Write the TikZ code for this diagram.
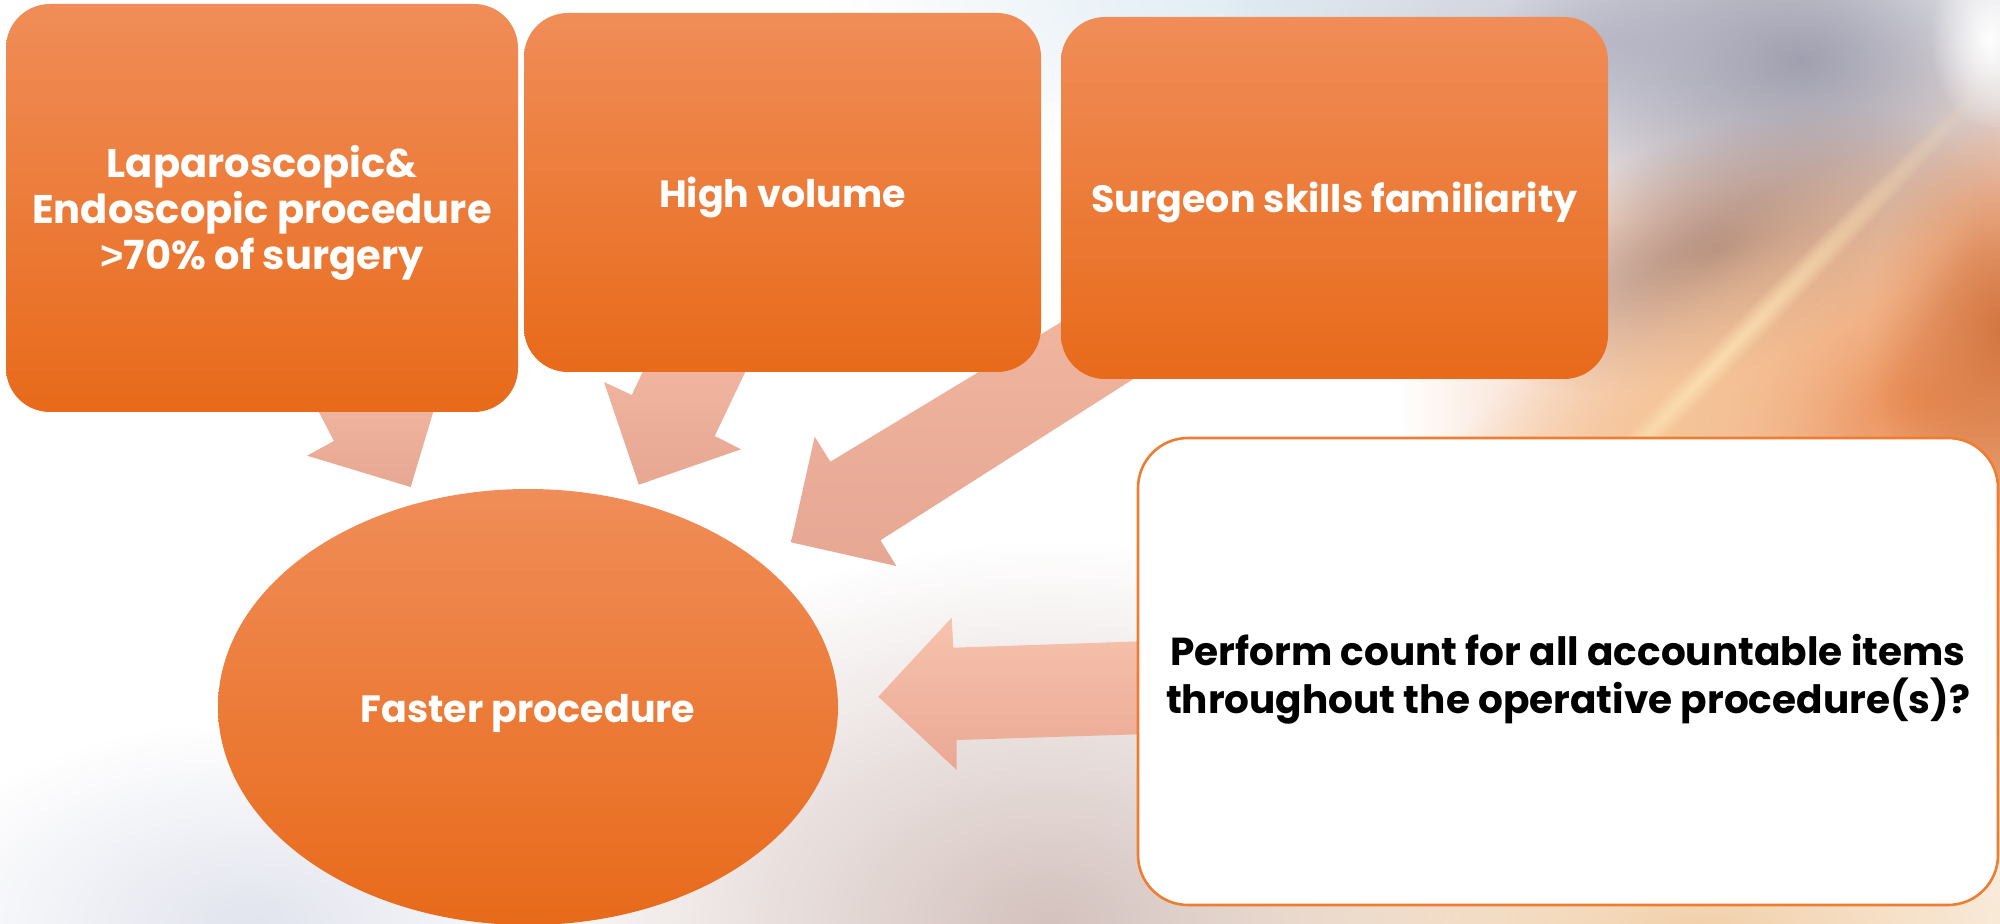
\documentclass[tikz,border=0pt]{standalone}
\usepackage{fontspec}
\newfontfamily\pop{Poppins}
\newfontfamily\altsans{Liberation Sans}
\usetikzlibrary{shapes.geometric,fadings}
\tikzfading[name=softfade, inner color=transparent!0, outer color=transparent!100]
\definecolor{boxtop}{HTML}{F08D58}
\definecolor{boxmid}{HTML}{F48030}
\definecolor{boxbot}{HTML}{E86A1A}
\definecolor{arrtop}{HTML}{F3B8A2}
\definecolor{arrbot}{HTML}{E6A793}
\definecolor{arr4top}{HTML}{F7C3AD}
\definecolor{arr4bot}{HTML}{EAA894}
\definecolor{edgeor}{HTML}{ED7D31}
\definecolor{bgmauve}{HTML}{D4C2BE}
\definecolor{bgcool}{HTML}{E2E4EE}
\definecolor{bgpeach}{HTML}{F2D0AA}
\definecolor{bggrey}{HTML}{A0A0B0}
\definecolor{bglav}{HTML}{C4C4D2}
\definecolor{bgbrown}{HTML}{B08C7E}
\definecolor{bgorange}{HTML}{EC9058}
\definecolor{bgdark}{HTML}{D47640}
\definecolor{bgblue}{HTML}{E0ECF4}
\definecolor{bgswoosh}{HTML}{FADDB0}
\definecolor{bgglow}{HTML}{F5C496}
% soft blob: colour, centre x, centre y, radius a, radius b (px), angle
\newcommand\softblob[6]{%
  \fill[#1, path fading=softfade, fit fading=false,
    fading transform={shift={(#2,#3)}, rotate=#6, xscale=#4/50, yscale=#5/50}]
    (#2-#4-#5,#3-#4-#5) rectangle (#2+#4+#5,#3+#4+#5);}
\tikzset{
  orshape/.style={rectangle, rounded corners=22pt, inner sep=0pt,
    top color=boxtop, middle color=boxmid, bottom color=boxbot},
  orell/.style={ellipse, inner sep=0pt,
    top color=boxtop, middle color=boxmid, bottom color=boxbot},
  whbox/.style={rectangle, rounded corners=25pt, inner sep=0pt, fill=white,
    draw=edgeor, line width=1.3pt},
  wtext/.style={text=white, align=center, inner sep=0pt,
    font=\pop\bfseries\fontsize{19}{23}\selectfont},
  btext/.style={text=black, align=center, inner sep=0pt,
    font=\pop\bfseries\fontsize{19.5}{24}\selectfont},
  blockarrow/.style={top color=arrtop, bottom color=arrbot, draw=none},
  blockarrowh/.style={top color=arr4top, bottom color=arr4bot, draw=none}
}
\begin{document}
\begin{tikzpicture}[x=0.5pt,y=-0.5pt]
\useasboundingbox (0,0) rectangle (2000,924);
\fill[white] (0,0) rectangle (2000,924);
\begin{scope}
\clip (0,0) rectangle (2000,924);
\softblob{bgcool}{250}{924}{350}{200}{0}
\softblob{bgmauve}{1050}{924}{560}{380}{0}
\softblob{bgpeach}{1700}{924}{560}{170}{0}
\softblob{bgblue}{1250}{0}{420}{160}{0}
\softblob{bgorange}{1920}{400}{520}{380}{0}
\softblob{bglav}{1600}{40}{380}{180}{0}
\softblob{bggrey}{1800}{60}{300}{200}{0}
\softblob{bgbrown}{1720}{250}{260}{120}{20}
\softblob{bgdark}{2000}{330}{130}{220}{0}
\softblob{bgglow}{1620}{470}{480}{140}{42}
\softblob{bgswoosh}{1700}{380}{430}{16}{46}
\softblob{white}{1990}{40}{60}{90}{0}
\end{scope}
% block arrows (drawn beneath the boxes)
\path[blockarrow] (302,380) -- (319.2,412.7) -- (333.9,441) -- (307.1,455.7)
  -- (410.7,487) -- (433,412.7) -- (442.8,380) -- cycle;
\path[blockarrow] (657.8,340) -- (642,373.3) -- (631.7,395) -- (604,382)
  -- (638.8,484.7) -- (741,449.3) -- (714.7,436) -- (744.6,373.3) -- (760.5,340) -- cycle;
\path[blockarrow] (1177,252) -- (830.4,461.7) -- (814.7,436.7) -- (791,542.3)
  -- (896.4,566) -- (880.4,540.3) -- (1258,299.5) -- cycle;
\path[blockarrowh] (1180,640) -- (953.3,647.7) -- (951.7,617.7) -- (878.3,696.7)
  -- (956.7,770) -- (956.7,740) -- (1180,733) -- cycle;
% shapes
\node[orshape, minimum width=256pt, minimum height=204pt] (lap) at (262,208) {};
\node[orshape, minimum width=258.5pt, minimum height=179.5pt] (vol) at (782.5,192.5) {};
\node[orshape, minimum width=273.5pt, minimum height=181pt] (skill) at (1334.5,198) {};
\node[orell, minimum width=310pt, minimum height=218pt] (fast) at (528,707) {};
\node[whbox, minimum width=430pt, minimum height=233.5pt] (count) at (1568,671.5) {};
% texts
\node[wtext, font=\pop\bfseries\fontsize{20}{23}\selectfont] (laptxt) at ([yshift=-2.5pt]lap.center)
  {Laparoscopic\&\\Endoscopic procedure\\{\altsans\bfseries >}70\% of surgery};
\node[wtext] (voltxt) at ([yshift=-2.5pt]vol.center) {High volume};
\node[wtext] (skilltxt) at ([yshift=-2.5pt]skill.center) {Surgeon skills familiarity};
\node[wtext] (fasttxt) at ([yshift=-3pt]fast.center) {Faster procedure};
\node[btext] (counttxt) at ([yshift=-4pt]count.center)
  {Perform count for all accountable items\\throughout the operative procedure(s)?};
\end{tikzpicture}
\end{document}
